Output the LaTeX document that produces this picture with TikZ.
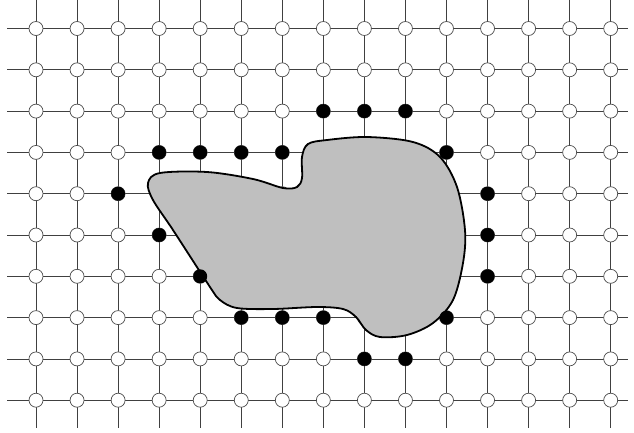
\documentclass[tikz,border=0pt]{standalone}
\begin{document}
\begin{tikzpicture}[x=1pt,y=-1pt,
  gridline/.style={draw=black!75,line width=0.8pt},
  site/.style={circle,draw=black!70,fill=white,line width=0.7pt,minimum size=14pt,inner sep=0pt},
  bsite/.style={circle,fill=black,minimum size=14pt,inner sep=0pt},
  blob/.style={draw=black,fill=black!25,line width=1.8pt}]
\useasboundingbox (0,0) rectangle (634,432);
% grid lines
\foreach \i in {0,...,14}{
  \pgfmathsetmacro{\xx}{36+41.05*\i}
  \draw[gridline] (\xx,0) -- (\xx,428);
}
\foreach \j in {0,...,9}{
  \pgfmathsetmacro{\yy}{28.5+41.3*\j}
  \draw[gridline] (7,\yy) -- (628,\yy);
}
% open sites
\foreach \i in {0,...,14}{
  \foreach \j in {0,...,9}{
    \pgfmathsetmacro{\xx}{36+41.05*\i}
    \pgfmathsetmacro{\yy}{28.5+41.3*\j}
    \node[site] (n-\i-\j) at (\xx,\yy) {};
  }
}
% region
\draw[blob] plot[smooth cycle,tension=0.55] coordinates {
  (148,183) (160,173) (207,172) (253,179) (283,188) (297,187) (302,178)
  (302,157) (308,144) (327,140) (367,137) (413,142) (440,157) (457,187)
  (465,230) (463,263) (453,300) (433,323) (407,335) (380,337) (366,330)
  (356,317) (343,309) (317,307) (273,309) (237,308) (220,300) (210,287)
  (173,230) (153,200)};
% boundary sites
\foreach \i/\j in {7/2,8/2,9/2,3/3,4/3,5/3,6/3,10/3,2/4,11/4,3/5,11/5,4/6,11/6,5/7,6/7,7/7,10/7,8/8,9/8}{
  \node[bsite] (b-\i-\j) at (n-\i-\j) {};
}
\end{tikzpicture}
\end{document}
